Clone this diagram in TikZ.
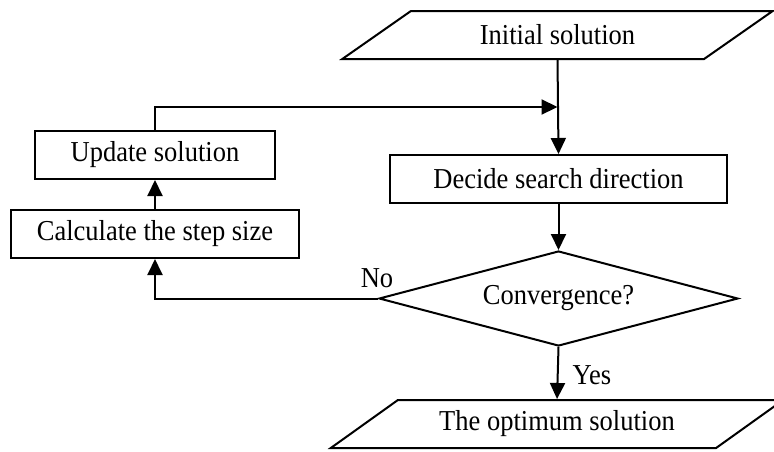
\documentclass[tikz,border=0pt]{standalone}
\usepackage{fontspec}
\setmainfont{Liberation Serif}
\usetikzlibrary{arrows.meta,shapes.geometric}
\newcommand{\stretchtxt}[1]{\scalebox{1}[1.09]{#1}}
\begin{document}
\begin{tikzpicture}[x=1pt,y=-1pt,
  every node/.style={font=\fontsize{26.5}{30}\selectfont},
  box/.style={draw,line width=2pt,rectangle,minimum height=48pt,inner sep=0pt},
  io/.style={draw,line width=2pt,trapezium,trapezium stretches=true,minimum height=48pt,inner sep=0pt},
  dec/.style={draw,line width=2pt,diamond,inner sep=0pt,aspect=3.78,minimum width=359pt,minimum height=95pt},
  conn/.style={line width=2pt},
  arr/.style={conn,-{Triangle[length=16pt,width=15pt]}},
  lbl/.style={inner sep=0pt}]
\clip (0,0) rectangle (774,451);
\fill[white] (0,0) rectangle (774,451);
\node[io,trapezium left angle=29.2,trapezium right angle=150.8,minimum width=431pt] (init) at (557.5,35) {\stretchtxt{Initial solution}};
\node[box,minimum width=337pt] (decide) at (558.5,179) {\stretchtxt{Decide search direction}};
\node[dec] (conv) at (558.5,298.5) {\stretchtxt{Convergence?}};
\node[io,trapezium left angle=27.8,trapezium right angle=152.2,minimum width=454pt] (opt) at (557,424) {\stretchtxt{The optimum solution}};
\node[box,minimum width=240pt] (update) at (155,155) {\stretchtxt{Update solution}};
\node[box,minimum width=288pt] (calc) at (155,234) {\stretchtxt{Calculate the step size}};
\coordinate (join) at (init.south |- 0,107);
\draw[arr] (init.south) -- (decide.north);
\draw[arr] (update.north) |- (join);
\draw[arr] (decide.south) -- (conv.north);
\draw[arr] (conv.south) -- node[lbl,right=14pt,pos=0.55] (yes) {\stretchtxt{Yes}} (opt.north);
\draw[arr] (conv.west) -| (calc.south);
\node[lbl] (no) at (377,278) {\stretchtxt{No}};
\draw[arr] (calc.north) -- (update.south);
\end{tikzpicture}
\end{document}
